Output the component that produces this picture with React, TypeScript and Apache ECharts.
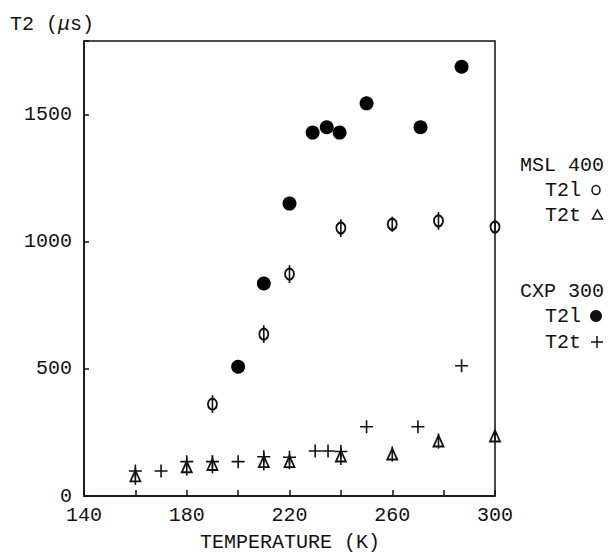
import React, { useEffect, useRef } from "react";
import * as echarts from "echarts";

// MSL 400, T2l (open circles, with error bars)
const mslT2lTemp = [190, 210, 220, 240, 260, 278, 300];
const mslT2lVal = [361, 636, 872, 1053, 1068, 1081, 1057];
const mslT2lErr = [35, 35, 35, 35, 30, 35, 20];

// MSL 400, T2t (open triangles, with error bars)
const mslT2tTemp = [160, 180, 190, 210, 220, 240, 260, 278, 300];
const mslT2tVal = [79, 115, 124, 135, 135, 157, 165, 216, 236];
const mslT2tErr = [35, 35, 35, 35, 30, 35, 30, 30, 20];

// CXP 300, T2l (filled circles)
const cxpT2lTemp = [200, 210, 220, 229, 234.5, 239.5, 250, 271, 287];
const cxpT2lVal = [508, 835, 1149, 1428, 1449, 1428, 1543, 1449, 1687];

// CXP 300, T2t (plus signs)
const cxpT2tTemp = [160, 170, 180, 190, 200, 210, 220, 230, 235, 240, 250, 270, 287];
const cxpT2tVal = [98, 98, 135, 135, 135, 154, 152, 177, 177, 175, 272, 272, 512];

const xTickLabels = [140, 180, 220, 260, 300];
const yTickLabels = [0, 500, 1000, 1500];

const FONT = "'Liberation Mono', 'DejaVu Sans Mono', monospace";
const INK = "#111";

const pairs = (xs: number[], ys: number[]) => xs.map((x, i) => [x, ys[i]]);
const errs = (xs: number[], ys: number[], es: number[]) =>
  xs.map((x, i) => [x, ys[i] - es[i], ys[i] + es[i]]);

const errorRender = (params: any, api: any) => {
  const x = api.value(0);
  const p1 = api.coord([x, api.value(1)]);
  const p2 = api.coord([x, api.value(2)]);
  return {
    type: "line",
    shape: { x1: p1[0], y1: p1[1], x2: p2[0], y2: p2[1] },
    style: { stroke: INK, lineWidth: 1.6 },
  };
};

export default function App() {
  const ref = useRef<HTMLDivElement>(null);
  useEffect(() => {
    if (!ref.current) return;
    const chart = echarts.init(ref.current, null, { renderer: "svg" });
    const legendText = (text: string, x: number, y: number) => ({
      type: "text",
      x,
      y,
      style: { text, fontFamily: FONT, fontSize: 20, fill: INK, verticalAlign: "middle" },
    });
    chart.setOption({
      animation: false,
      backgroundColor: "#fff",
      grid: {
        left: 84,
        right: 113,
        top: 41,
        bottom: 58,
        show: true,
        borderColor: INK,
        borderWidth: 1.5,
      },
      xAxis: {
        type: "value",
        min: 140,
        max: 300,
        interval: 20,
        axisLine: { show: true, lineStyle: { color: INK, width: 1.5 } },
        axisTick: { show: true, inside: true, length: 6, lineStyle: { color: INK, width: 1.5 } },
        splitLine: { show: false },
        axisLabel: {
          color: INK,
          fontFamily: FONT,
          fontSize: 20,
          margin: 9,
          showMaxLabel: true,
          showMinLabel: true,
          formatter: (v: number) => (xTickLabels.includes(v) ? String(v) : ""),
        },
      },
      yAxis: {
        type: "value",
        min: 0,
        max: 1788,
        interval: 500,
        axisLine: { show: true, lineStyle: { color: INK, width: 1.5 } },
        axisTick: { show: true, inside: true, length: 5, lineStyle: { color: INK, width: 1.5 } },
        splitLine: { show: false },
        axisLabel: {
          color: INK,
          fontFamily: FONT,
          fontSize: 20,
          margin: 12,
          formatter: (v: number) => (yTickLabels.includes(v) ? String(v) : ""),
        },
      },
      graphic: [
        {
          type: "text",
          x: 10,
          y: 24,
          style: {
            text: "{a|T2 (}{b|μ}{a|s)}",
            verticalAlign: "middle",
            rich: {
              a: { fontFamily: FONT, fontSize: 20, fill: INK, color: INK },
              b: { fontFamily: FONT, fontSize: 20, fontStyle: "italic", fill: INK, color: INK },
            },
          },
        },
        {
          type: "text",
          x: 290,
          y: 542,
          style: {
            text: "TEMPERATURE (K)",
            fontFamily: FONT,
            fontSize: 20,
            fill: INK,
            align: "center",
            verticalAlign: "middle",
          },
        },
        legendText("MSL 400", 520, 165),
        legendText("T2l", 545, 190),
        { type: "ellipse", shape: { cx: 596, cy: 190, rx: 4, ry: 4.5 }, style: { fill: "none", stroke: INK, lineWidth: 1.5 } },
        legendText("T2t", 545, 215),
        {
          type: "polygon",
          shape: { points: [[597.5, 210], [602.5, 219], [592.5, 219]] },
          style: { fill: "none", stroke: INK, lineWidth: 1.5 },
        },
        legendText("CXP 300", 520, 291),
        legendText("T2l", 545, 316),
        { type: "circle", shape: { cx: 596, cy: 316, r: 6 }, style: { fill: INK } },
        legendText("T2t", 545, 342),
        { type: "line", shape: { x1: 591, y1: 342, x2: 603, y2: 342 }, style: { stroke: INK, lineWidth: 1.5 } },
        { type: "line", shape: { x1: 597, y1: 336, x2: 597, y2: 348 }, style: { stroke: INK, lineWidth: 1.5 } },
      ],
      series: [
        {
          name: "MSL 400 T2l err",
          type: "custom",
          renderItem: errorRender,
          data: errs(mslT2lTemp, mslT2lVal, mslT2lErr),
          encode: { x: 0, y: [1, 2] },
          clip: false,
          z: 3,
        },
        {
          name: "MSL 400 T2t err",
          type: "custom",
          renderItem: errorRender,
          data: errs(mslT2tTemp, mslT2tVal, mslT2tErr),
          encode: { x: 0, y: [1, 2] },
          clip: false,
          z: 3,
        },
        {
          name: "MSL 400 T2l",
          type: "scatter",
          symbol: "circle",
          symbolSize: [9, 11],
          data: pairs(mslT2lTemp, mslT2lVal),
          itemStyle: { color: "rgba(0,0,0,0)", borderColor: INK, borderWidth: 2, opacity: 1 },
          clip: false,
          z: 4,
        },
        {
          name: "MSL 400 T2t",
          type: "scatter",
          symbol: "triangle",
          symbolSize: [10, 11],
          data: pairs(mslT2tTemp, mslT2tVal),
          itemStyle: { color: "rgba(0,0,0,0)", borderColor: INK, borderWidth: 1.8, opacity: 1 },
          clip: false,
          z: 4,
        },
        {
          name: "CXP 300 T2l",
          type: "scatter",
          symbol: "circle",
          symbolSize: 14,
          data: pairs(cxpT2lTemp, cxpT2lVal),
          itemStyle: { color: "#000", opacity: 1 },
          clip: false,
          z: 4,
        },
        {
          name: "CXP 300 T2t",
          type: "scatter",
          symbol: "path://M6 0 L6 12 M0 6 L12 6",
          symbolSize: 13,
          data: pairs(cxpT2tTemp, cxpT2tVal),
          itemStyle: { color: "none", borderColor: INK, borderWidth: 1.6, opacity: 1 },
          clip: false,
          z: 4,
        },
      ],
    });
    return () => chart.dispose();
  }, []);
  return (
    <div
      ref={ref}
      style={{ position: "fixed", left: 0, top: 0, width: 608, height: 554, background: "#fff" }}
    />
  );
}
